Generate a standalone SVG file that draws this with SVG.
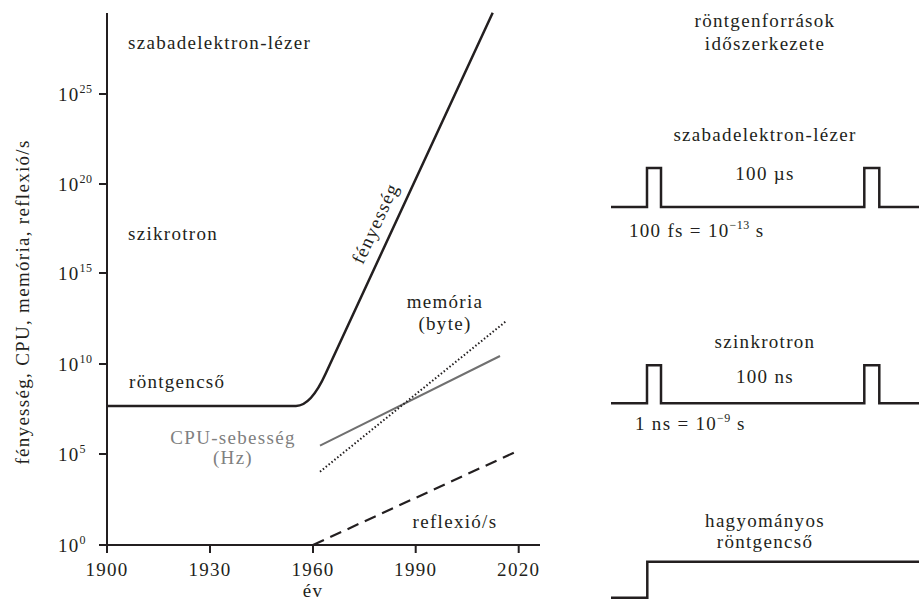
<svg xmlns="http://www.w3.org/2000/svg" width="919" height="600" viewBox="0 0 919 600">
<style>
text{font-family:"Liberation Serif","Times New Roman",serif;font-size:19px;letter-spacing:1.3px;fill:#231f20}
.m{text-anchor:middle}
.sup{font-size:12px;letter-spacing:0.5px}
.gray{fill:#808080}
.ax{stroke:#231f20;stroke-width:2;fill:none}
.pl{stroke:#231f20;stroke-width:2.5;fill:none}
</style>
<rect width="919" height="600" fill="#fff"/>
<g id="axes">
<path class="ax" d="M107,13 V545 H540"/>
<path class="ax" d="M99,545 H107 M99,454 H107 M99,364 H107 M99,273 H107 M99,184 H107 M99,94 H107"/>
<path class="ax" d="M107,545 V553 M210,545 V553 M313,545 V553 M415.7,545 V553 M518.7,545 V553"/>
<text x="58" y="552">10<tspan class="sup" dy="-8">0</tspan></text>
<text x="58" y="461">10<tspan class="sup" dy="-8">5</tspan></text>
<text x="58" y="371">10<tspan class="sup" dy="-8">10</tspan></text>
<text x="58" y="280">10<tspan class="sup" dy="-8">15</tspan></text>
<text x="58" y="191">10<tspan class="sup" dy="-8">20</tspan></text>
<text x="58" y="101">10<tspan class="sup" dy="-8">25</tspan></text>
<text class="m" x="107" y="576">1900</text>
<text class="m" x="210" y="576">1930</text>
<text class="m" x="313" y="576">1960</text>
<text class="m" x="415.7" y="576">1990</text>
<text class="m" x="518.7" y="576">2020</text>
<text class="m" x="313" y="597">év</text>
<text class="m" transform="translate(29,302) rotate(-90)">fényesség, CPU, memória, reflexió/s</text>
</g>
<g id="connectors">
<path id="brightness" class="pl" d="M107,406 L296,406 Q311,406 325.7,373.6 L492.7,12.7"/>
<line id="cpu" x1="320" y1="445.7" x2="500" y2="356" stroke="#707070" stroke-width="2"/>
<line id="memory" x1="320" y1="471.7" x2="506.7" y2="320.7" stroke="#231f20" stroke-width="2" stroke-dasharray="1.5 2.2"/>
<line id="reflection" x1="313" y1="545" x2="516" y2="451.7" stroke="#231f20" stroke-width="2.2" stroke-dasharray="12 7"/>
</g>
<g id="labels-left">
<text x="128" y="49">szabadelektron-lézer</text>
<text x="128" y="240">szikrotron</text>
<text x="129" y="388">röntgencső</text>
<text class="m gray" x="233" y="444">CPU-sebesség</text>
<text class="m gray" x="233" y="464">(Hz)</text>
<text class="m" x="445" y="308">memória</text>
<text class="m" x="445" y="330">(byte)</text>
<text class="m" x="455" y="528">reflexió/s</text>
<text class="m" transform="translate(381,226) rotate(-65.2)">fényesség</text>
</g>
<g id="title">
<text class="m" x="765" y="27">röntgenforrások</text>
<text class="m" x="765" y="50">időszerkezete</text>
</g>
<g id="fel">
<text class="m" x="765" y="141">szabadelektron-lézer</text>
<path class="pl" d="M611,207 H647 V168 H661 V207 H864.3 V168 H879.3 V207 H920"/>
<text class="m" x="765" y="180">100 µs</text>
<text x="629" y="237">100 fs = 10<tspan class="sup" dy="-8">−13</tspan><tspan dy="8"> s</tspan></text>
</g>
<g id="synchrotron">
<text class="m" x="765" y="348">szinkrotron</text>
<path class="pl" d="M611,403.3 H647 V365.3 H661 V403.3 H864.3 V365.3 H879.3 V403.3 H920"/>
<text class="m" x="765" y="383">100 ns</text>
<text x="635" y="430">1 ns = 10<tspan class="sup" dy="-8">−9</tspan><tspan dy="8"> s</tspan></text>
</g>
<g id="tube">
<text class="m" x="765" y="527">hagyományos</text>
<text class="m" x="765" y="548">röntgencső</text>
<path class="pl" d="M611,597.7 H647.3 V561.7 H920"/>
</g>
</svg>
